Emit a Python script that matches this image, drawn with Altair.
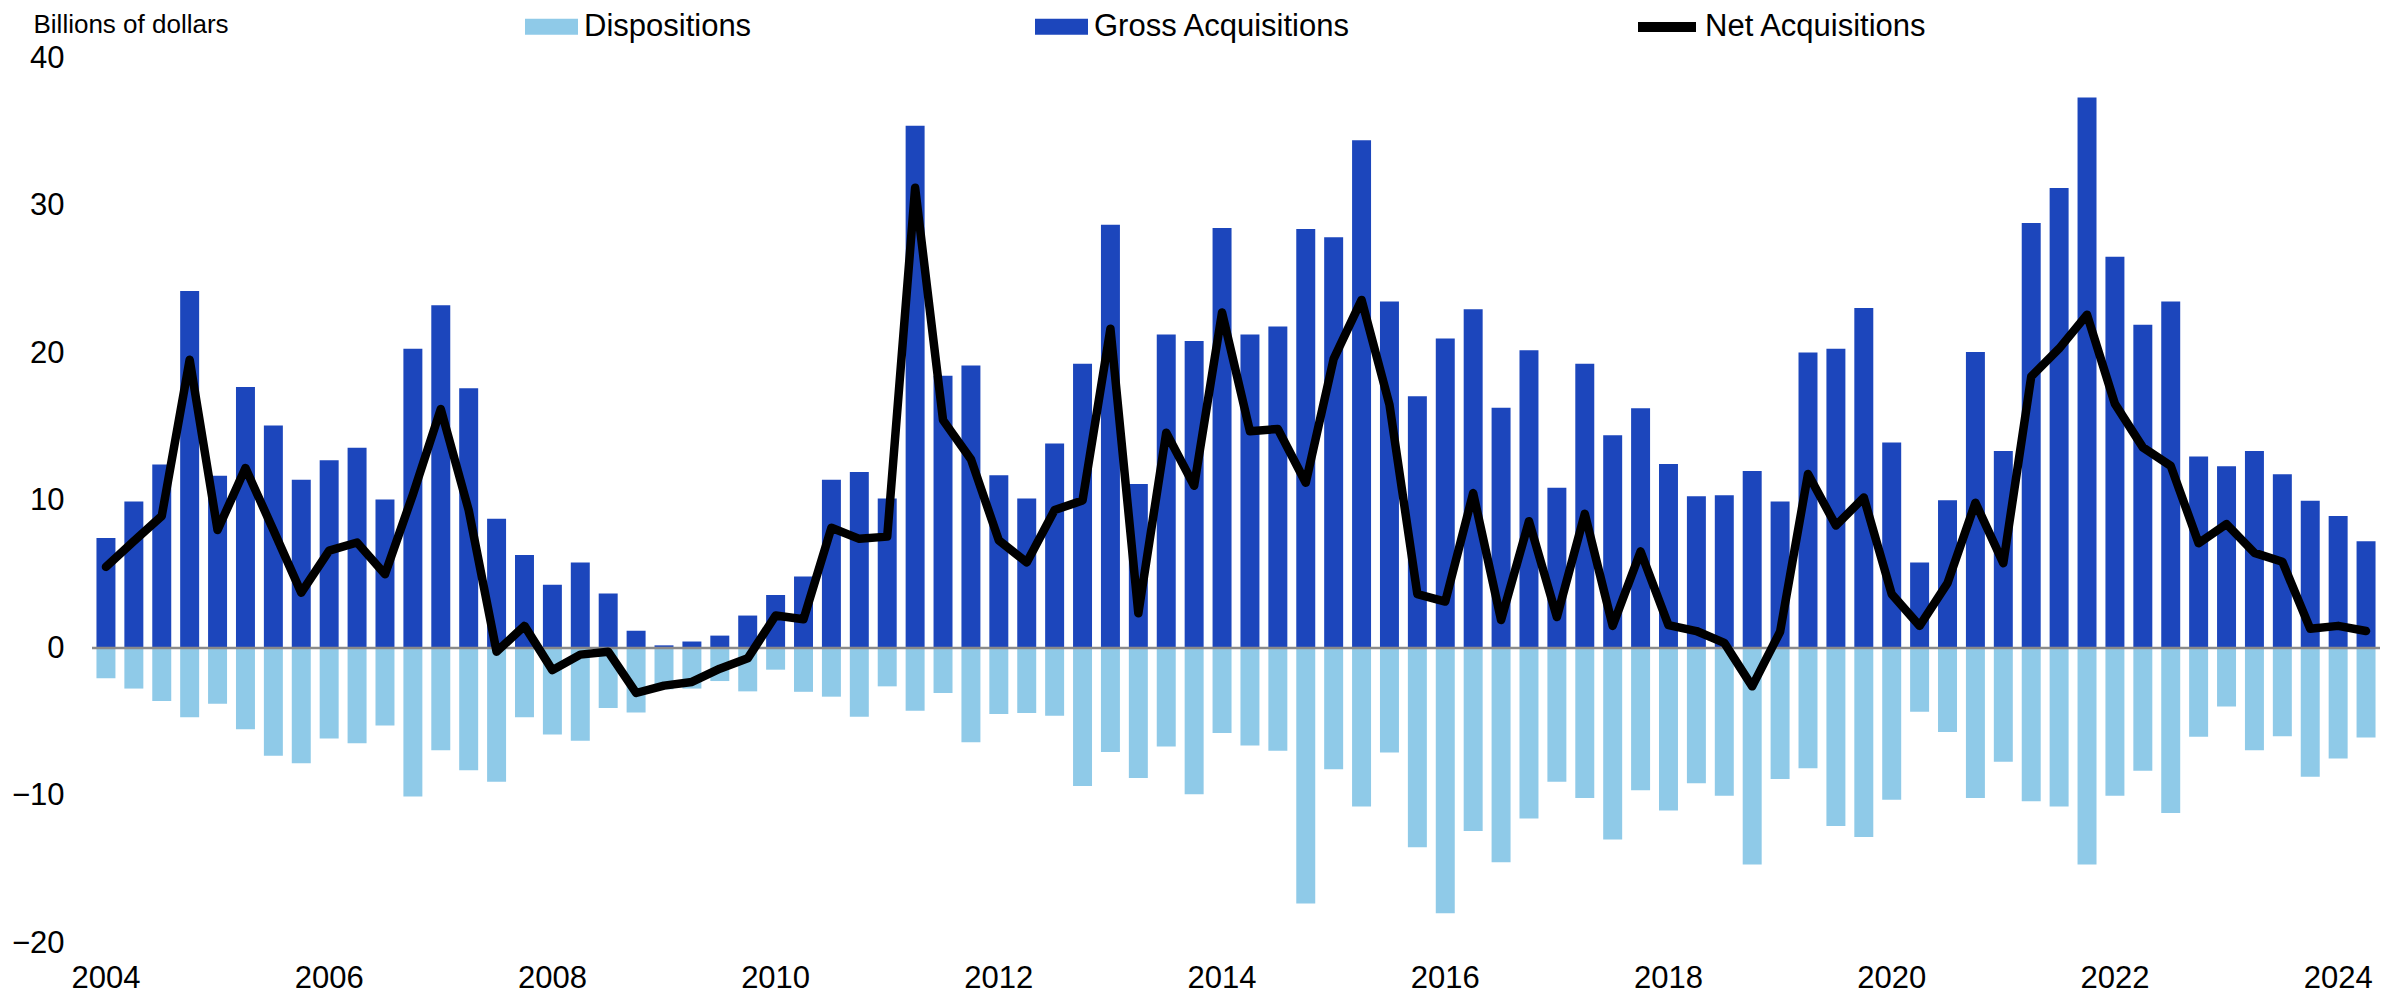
import altair as alt
import pandas as pd

quarters = [f"{y}Q{q}" for y in range(2004, 2025) for q in range(1, 5)][:82]

gross = [7.45, 9.94, 12.44, 24.2, 11.67, 17.69, 15.08, 11.41, 12.73, 13.58, 10.06, 20.29, 23.23, 17.61,
         8.77, 6.31, 4.29, 5.8, 3.7, 1.17, 0.18, 0.44, 0.84, 2.2, 3.6, 4.84, 11.41, 11.93,
         10.13, 35.41, 18.46, 19.16, 11.71, 10.13, 13.87, 19.27, 28.7, 11.12, 21.25, 20.81, 28.48, 21.25,
         21.8, 28.4, 27.85, 34.42, 23.49, 17.06, 20.99, 22.97, 16.29, 20.18, 10.86, 19.27, 14.42, 16.26,
         12.48, 10.28, 10.35, 12.0, 9.94, 20.04, 20.29, 23.05, 13.94, 5.8, 10.02, 20.07, 13.36, 28.81,
         31.19, 37.32, 26.53, 21.91, 23.49, 12.99, 12.33, 13.36, 11.78, 9.98, 8.95, 7.23]

dispositions = [-2.05, -2.75, -3.6, -4.7, -3.78, -5.5, -7.3, -7.82, -6.13, -6.46, -5.25, -10.06, -6.94, -8.29,
                -9.06, -4.7, -5.87, -6.28, -4.07, -4.37, -2.8, -2.75, -2.24, -2.94, -1.47, -2.97, -3.3, -4.66,
                -2.6, -4.26, -3.05, -6.39, -4.48, -4.4, -4.59, -9.36, -7.05, -8.81, -6.68, -9.91, -5.76, -6.61,
                -6.97, -17.32, -8.22, -10.75, -7.08, -13.5, -17.98, -12.4, -14.53, -11.56, -9.06, -10.17, -12.99, -9.65,
                -11.01, -9.17, -10.02, -14.68, -8.88, -8.15, -12.07, -12.81, -10.28, -4.33, -5.69, -10.17, -7.71, -10.39,
                -10.75, -14.68, -10.02, -8.33, -11.19, -6.02, -3.96, -6.94, -5.98, -8.73, -7.49, -6.06]

net = [5.5, 7.25, 8.95, 19.55, 8.0, 12.2, 8.0, 3.75, 6.6, 7.15, 5.0, 10.4, 16.2, 9.35,
       -0.25, 1.5, -1.5, -0.45, -0.25, -3.05, -2.55, -2.3, -1.4, -0.7, 2.2, 1.95, 8.15, 7.4,
       7.55, 31.2, 15.45, 12.8, 7.3, 5.8, 9.35, 10.0, 21.65, 2.35, 14.6, 11.0, 22.75, 14.7,
       14.85, 11.2, 19.6, 23.6, 16.5, 3.65, 3.15, 10.5, 1.9, 8.6, 2.1, 9.1, 1.5, 6.55,
       1.55, 1.15, 0.35, -2.6, 1.1, 11.8, 8.3, 10.2, 3.65, 1.5, 4.4, 9.85, 5.75, 18.4,
       20.3, 22.6, 16.55, 13.6, 12.35, 7.1, 8.4, 6.45, 5.85, 1.3, 1.5, 1.15]

year_ticks = [f"{y}Q1" for y in range(2004, 2025, 2)]
y_ticks = [-20, -10, 0, 10, 20, 30, 40]

FONT = "Liberation Sans, Arial, sans-serif"
DARK = "#1C46BC"
LIGHT = "#8FCAE8"

bars_df = pd.DataFrame({
    "quarter": quarters * 2,
    "series": ["Dispositions"] * len(quarters) + ["Gross Acquisitions"] * len(quarters),
    "value": dispositions + gross,
})
line_df = pd.DataFrame({"quarter": quarters, "series": "Net Acquisitions", "value": net})
zero_df = pd.DataFrame({"value": [0]})

x_enc = alt.X(
    "quarter:O",
    sort=quarters,
    scale=alt.Scale(paddingInner=0.32),
    axis=alt.Axis(
        values=year_ticks, labelExpr="substring(datum.value, 0, 4)", labelAngle=0,
        domain=False, ticks=False, tickSize=0, labelPadding=20, grid=False,
        labelFontSize=31, labelFont=FONT, labelColor="black", title=None,
    ),
)
y_scale = alt.Scale(domain=[-20, 40], nice=False, zero=False)
y_axis = alt.Axis(
    values=y_ticks, grid=False, domain=False, ticks=False, tickSize=0, labelPadding=28,
    labelFontSize=31, labelFont=FONT, labelColor="black",
    title="Billions of dollars", titleAngle=0, titleAlign="left", titleBaseline="alphabetic",
    titleX=-59, titleY=-26, titleFontSize=26, titleFontWeight="normal", titleFont=FONT,
    titleColor="black",
)

bars = alt.Chart(bars_df).mark_bar().encode(
    x=x_enc,
    y=alt.Y("value:Q", scale=y_scale, axis=y_axis, stack=None),
    fill=alt.Fill(
        "series:N",
        scale=alt.Scale(domain=["Dispositions", "Gross Acquisitions"], range=[LIGHT, DARK]),
        legend=alt.Legend(
            title=None, orient="none", legendX=433, legendY=-58, direction="horizontal",
            symbolType="M-1,-0.3L1,-0.3L1,0.3L-1,0.3Z", symbolSize=2809, symbolStrokeWidth=0,
            symbolOpacity=1, labelFontSize=31, labelFont=FONT, labelColor="black",
            labelOffset=6, columnPadding=283, labelLimit=1000, padding=0,
        ),
    ),
)

zero = alt.Chart(zero_df).mark_rule(color="#8a8a8a", strokeWidth=2.5).encode(
    y=alt.Y("value:Q", scale=y_scale)
)

line = alt.Chart(line_df).mark_line(strokeWidth=8.5, strokeJoin="round", strokeCap="round").encode(
    x=x_enc,
    y=alt.Y("value:Q", scale=y_scale),
    stroke=alt.Stroke(
        "series:N",
        scale=alt.Scale(domain=["Net Acquisitions"], range=["black"]),
        legend=alt.Legend(
            title=None, orient="none", legendX=1541, legendY=-65, symbolType="stroke",
            symbolSize=3364, symbolStrokeWidth=10, labelFontSize=31, labelFont=FONT,
            labelColor="black", labelOffset=4, labelLimit=1000, padding=0,
        ),
    ),
)

chart = alt.layer(bars, zero, line).properties(
    width=2288,
    height=885,
    padding={"left": 84, "top": 50, "right": 8, "bottom": 52},
    autosize=alt.AutoSizeParams(type="none"),
).configure_view(stroke=None)

chart.save("out.html", embed_options={"renderer": "svg", "actions": False})
